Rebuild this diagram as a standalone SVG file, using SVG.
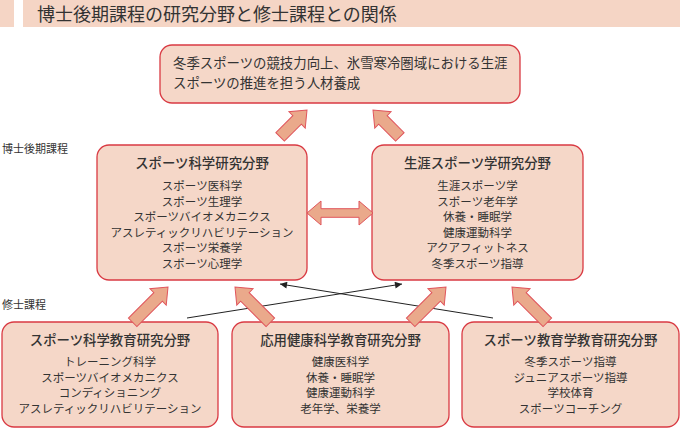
<svg xmlns="http://www.w3.org/2000/svg" width="680" height="429" viewBox="0 0 680 429">
<style>
text{font-family:"Noto Sans CJK JP","Noto Sans CJK SC",sans-serif;fill:#333}
.box{fill:#f5d7c8;stroke:#d93a43;stroke-width:1.3}
.blk{fill:#eaa98b;stroke:#e0555c;stroke-width:1}
.ttl{font-size:13.4px;font-weight:500;text-anchor:middle}
.itm{font-size:11.5px;text-anchor:middle}
.lbl{font-size:11px}
.thin{stroke:#222;stroke-width:1;fill:none;marker-end:url(#ah)}
</style>
<defs>
<marker id="ah" viewBox="0 0 10 10" refX="10" refY="5" markerWidth="9" markerHeight="7" markerUnits="userSpaceOnUse" orient="auto">
<path d="M0,0 L10,5 L0,10 Z" fill="#222"/>
</marker>
<path id="arrS" d="M-38,-6 L-14,-6 L-14,-11.5 L0,0 L-14,11.5 L-14,6 L-38,6 Z"/>
<path id="arrL" d="M-50,-6 L-14,-6 L-14,-11.5 L0,0 L-14,11.5 L-14,6 L-50,6 Z"/>
</defs>

<g id="title">
<rect x="0" y="0" width="14" height="27" fill="#f5d5c5"/>
<rect x="23" y="0" width="657" height="27" fill="#f5d5c5"/>
<text x="37" y="21" style="font-size:18px">博士後期課程の研究分野と修士課程との関係</text>
</g>

<g id="labels">
<text class="lbl" x="2" y="153">博士後期課程</text>
<text class="lbl" x="2" y="309">修士課程</text>
</g>

<g id="goal">
<rect class="box" x="160" y="45" width="360" height="58" rx="12"/>
<text x="173" y="68" style="font-size:13.4px">冬季スポーツの競技力向上、氷雪寒冷圏域における生涯</text>
<text x="173" y="88" style="font-size:13.4px">スポーツの推進を担う人材養成</text>
</g>

<g id="doc-sports-science">
<rect class="box" x="97" y="145" width="210" height="135" rx="12"/>
<text class="ttl" x="202" y="168">スポーツ科学研究分野</text>
<text class="itm" x="202" y="190">スポーツ医科学</text>
<text class="itm" x="202" y="205.5">スポーツ生理学</text>
<text class="itm" x="202" y="221">スポーツバイオメカニクス</text>
<text class="itm" x="202" y="236.5">アスレティックリハビリテーション</text>
<text class="itm" x="202" y="252">スポーツ栄養学</text>
<text class="itm" x="202" y="267.5">スポーツ心理学</text>
</g>

<g id="doc-lifelong">
<rect class="box" x="372" y="145" width="211" height="135" rx="12"/>
<text class="ttl" x="477.5" y="168">生涯スポーツ学研究分野</text>
<text class="itm" x="477.5" y="190">生涯スポーツ学</text>
<text class="itm" x="477.5" y="205.5">スポーツ老年学</text>
<text class="itm" x="477.5" y="221">休養・睡眠学</text>
<text class="itm" x="477.5" y="236.5">健康運動科学</text>
<text class="itm" x="477.5" y="252">アクアフィットネス</text>
<text class="itm" x="477.5" y="267.5">冬季スポーツ指導</text>
</g>

<g id="connectors">
<use href="#arrS" class="blk" transform="translate(307,110) rotate(-45)"/>
<use href="#arrS" class="blk" transform="translate(373,110) rotate(-135)"/>
<path class="blk" d="M307,213 L321,201 L321,208.7 L359,208.7 L359,201 L373,213 L359,225 L359,217.3 L321,217.3 L321,225 Z"/>
<line class="thin" x1="187" y1="318" x2="402" y2="284"/>
<line class="thin" x1="493" y1="318" x2="280" y2="284"/>
</g>

<g id="mas-sports-science">
<rect class="box" x="2" y="322" width="216" height="105" rx="12"/>
<text class="ttl" x="110" y="345">スポーツ科学教育研究分野</text>
<text class="itm" x="110" y="366">トレーニング科学</text>
<text class="itm" x="110" y="381.5">スポーツバイオメカニクス</text>
<text class="itm" x="110" y="397">コンディショニング</text>
<text class="itm" x="110" y="412.5">アスレティックリハビリテーション</text>
</g>

<g id="mas-applied-health">
<rect class="box" x="232" y="322" width="217" height="105" rx="12"/>
<text class="ttl" x="340.5" y="345">応用健康科学教育研究分野</text>
<text class="itm" x="340.5" y="366">健康医科学</text>
<text class="itm" x="340.5" y="381.5">休養・睡眠学</text>
<text class="itm" x="340.5" y="397">健康運動科学</text>
<text class="itm" x="340.5" y="412.5">老年学、栄養学</text>
</g>

<g id="mas-sports-education">
<rect class="box" x="462" y="322" width="217" height="105" rx="12"/>
<text class="ttl" x="570.5" y="345">スポーツ教育学教育研究分野</text>
<text class="itm" x="570.5" y="366">冬季スポーツ指導</text>
<text class="itm" x="570.5" y="381.5">ジュニアスポーツ指導</text>
<text class="itm" x="570.5" y="397">学校体育</text>
<text class="itm" x="570.5" y="412.5">スポーツコーチング</text>
</g>

<g id="connectors-up">
<use href="#arrL" class="blk" transform="translate(168,287) rotate(-45)"/>
<use href="#arrL" class="blk" transform="translate(235,287) rotate(-135)"/>
<use href="#arrL" class="blk" transform="translate(446,287) rotate(-45)"/>
<use href="#arrL" class="blk" transform="translate(512,287) rotate(-135)"/>
</g>
</svg>
